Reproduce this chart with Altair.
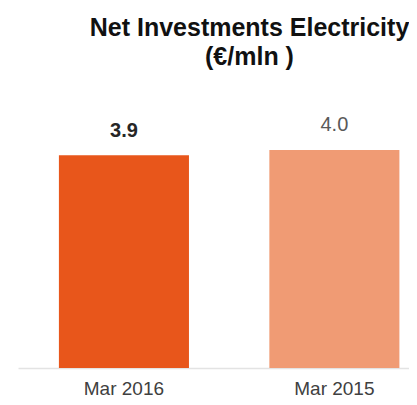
import altair as alt
import pandas as pd

periods = ["Mar 2016", "Mar 2015"]
values = [3.9, 4.0]
labels = ["3.9", "4.0"]

df = pd.DataFrame({"period": periods, "value": values, "label": labels})

FONT = "Liberation Sans"

x_enc = alt.X(
    "period:N",
    sort=periods,
    scale=alt.Scale(paddingInner=0.382, paddingOuter=0.12, align=0.81),
    axis=alt.Axis(
        title=None,
        ticks=False,
        domainColor="#e3e3e3",
        domainWidth=1.5,
        labelFont=FONT,
        labelFontSize=19,
        labelColor="#404040",
        labelPadding=11,
        labelAngle=0,
    ),
)
y_scale = alt.Scale(domain=[0, 4.53])

bars = alt.Chart(df).mark_bar().encode(
    x=x_enc,
    y=alt.Y("value:Q", scale=y_scale, axis=None),
    color=alt.Color(
        "period:N",
        sort=periods,
        scale=alt.Scale(domain=periods, range=["#e8561b", "#f09b74"]),
        legend=None,
    ),
)

lab1 = alt.Chart(df).transform_filter(alt.datum.period == periods[0]).mark_text(
    font=FONT, fontSize=20, fontWeight="bold", color="#262626", dy=-18, baseline="alphabetic"
).encode(x=alt.X("period:N", sort=periods), y=alt.Y("value:Q", scale=y_scale), text="label:N")

lab2 = alt.Chart(df).transform_filter(alt.datum.period == periods[1]).mark_text(
    font=FONT, fontSize=20, color="#595959", dy=-19, baseline="alphabetic"
).encode(x=alt.X("period:N", sort=periods), y=alt.Y("value:Q", scale=y_scale), text="label:N")

chart = alt.layer(bars, lab1, lab2).properties(
    width=391,
    height=247,
    title=alt.TitleParams(
        text=["Net Investments Electricity", "(€/mln )"],
        font=FONT,
        fontSize=25,
        fontWeight="bold",
        color="#111111",
        lineHeight=29,
        anchor="middle",
        dx=36,
        offset=25,
        baseline="alphabetic",
    ),
    autosize=alt.AutoSizeParams(type="none"),
    padding={"left": 10, "top": 113, "right": 0, "bottom": 29},
).configure_view(stroke=None)

chart.save("out.html", embed_options={"renderer": "svg", "actions": False})
